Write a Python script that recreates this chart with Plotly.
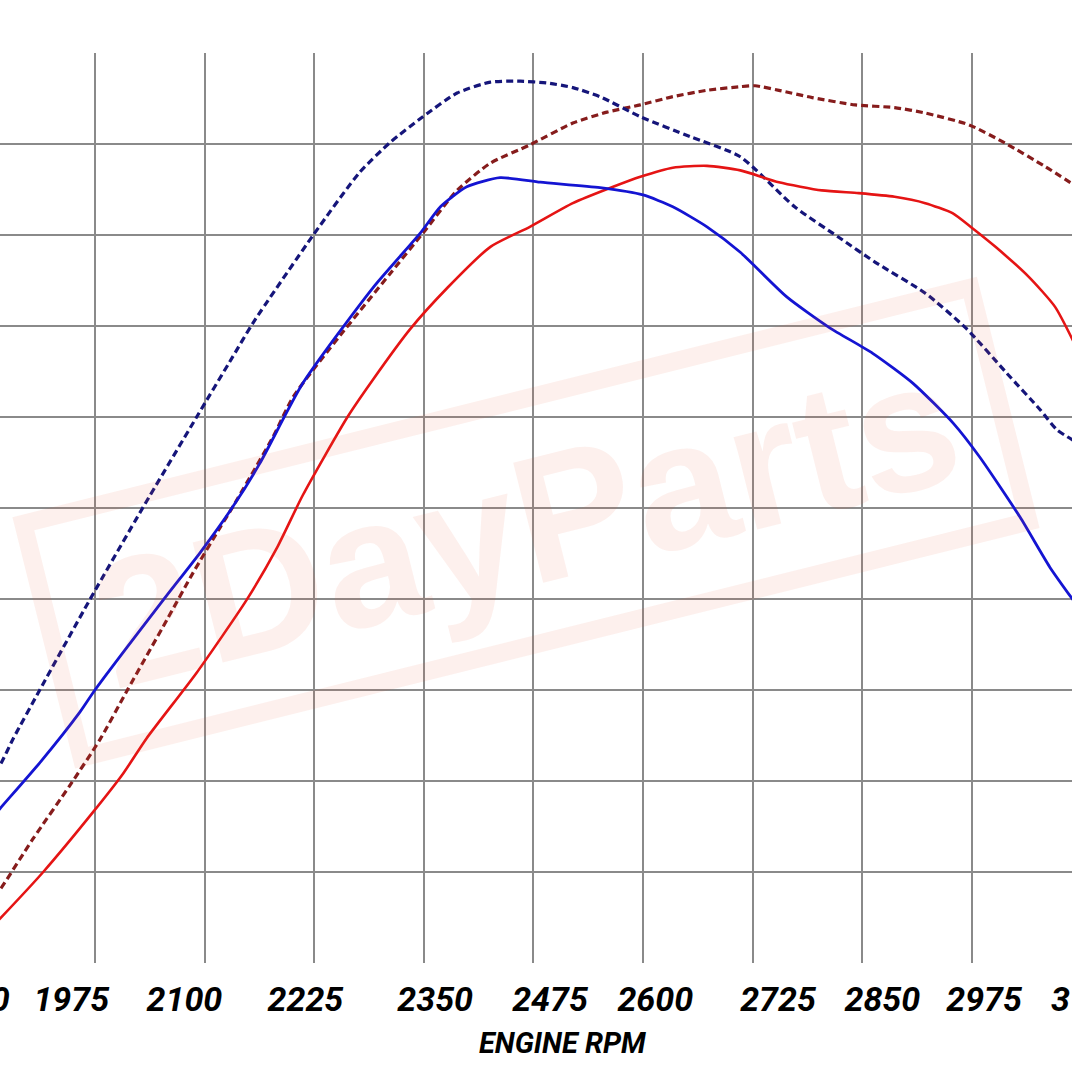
import plotly.graph_objects as go

# dyno sweep, values in grid divisions (y labels are cropped off the source)
blue_rpm = [1860, 1867, 1912, 1958, 1975, 2053, 2095, 2132, 2163, 2212, 2292, 2346, 2369, 2399,
            2437, 2483, 2551, 2600, 2634, 2673, 2711, 2764, 2813, 2862, 2908, 2954, 2984, 3030,
            3064, 3095]
blue_val = [1.62, 1.70, 2.20, 2.76, 3.00, 3.99, 4.51, 5.01, 5.49, 6.37, 7.42, 8.02, 8.31, 8.53,
            8.63, 8.58, 8.52, 8.44, 8.31, 8.09, 7.81, 7.32, 6.98, 6.70, 6.37, 5.93, 5.56, 4.90,
            4.35, 3.93]

navy_rpm = [1860, 1867, 1882, 1912, 1969, 2030, 2091, 2132, 2155, 2224, 2277, 2312, 2349, 2388,
            2426, 2460, 2491, 2520, 2551, 2597, 2654, 2711, 2773, 2824, 2865, 2922, 2969, 3015,
            3053, 3072, 3095]
navy_val = [2.10, 2.18, 2.47, 3.00, 3.99, 5.01, 6.00, 6.66, 7.03, 8.00, 8.69, 9.02, 9.30, 9.56,
            9.68, 9.69, 9.67, 9.62, 9.52, 9.30, 9.08, 8.86, 8.31, 7.97, 7.70, 7.36, 6.97, 6.48,
            6.08, 5.86, 5.72]

red_rpm = [1860, 1867, 1916, 1973, 2007, 2034, 2091, 2148, 2183, 2212, 2263, 2292, 2334,
           2377, 2426, 2471, 2520, 2566, 2597, 2634, 2673, 2711, 2755, 2804, 2846, 2887, 2922,
           2953, 2975, 3002, 3040, 3070, 3095]
red_val = [0.42, 0.49, 1.00, 1.66, 2.08, 2.47, 3.19, 3.99, 4.57, 5.14, 6.00, 6.41, 6.96,
           7.42, 7.87, 8.09, 8.35, 8.53, 8.64, 8.74, 8.76, 8.71, 8.58, 8.49, 8.46, 8.42, 8.35,
           8.24, 8.08, 7.87, 7.54, 7.21, 6.75]

maroon_rpm = [1860, 1867, 1904, 1947, 1981, 2012, 2057, 2087, 2118, 2132, 2178, 2201, 2255, 2312,
              2349, 2388, 2426, 2471, 2520, 2559, 2597, 2634, 2673, 2711, 2728, 2755, 2793, 2842,
              2887, 2922, 2972, 3013, 3059, 3095]
maroon_val = [0.73, 0.81, 1.36, 1.96, 2.46, 3.00, 3.77, 4.29, 4.79, 5.01, 5.78, 6.22, 6.90, 7.58,
              8.02, 8.49, 8.79, 8.99, 9.23, 9.35, 9.43, 9.52, 9.59, 9.63, 9.64, 9.59, 9.51, 9.43,
              9.40, 9.34, 9.21, 9.01, 8.75, 8.53]

grid_rpm = [1975, 2100, 2225, 2350, 2475, 2600, 2725, 2850, 2975]
label_rpm = [1948, 2077, 2215, 2363, 2494, 2614, 2754, 2873, 2989]
label_text = ["1975", "2100", "2225", "2350", "2475", "2600", "2725", "2850", "2975"]

x_range = [1866.7, 3089.3]
tick_font = dict(family="Roboto, Liberation Sans, Arial", size=34, color="black",
                 weight="bold", style="italic")

fig = go.Figure()
fig.add_trace(go.Scatter(x=maroon_rpm, y=maroon_val, mode="lines", name="maroon dashed",
                         line=dict(color="#861c1c", width=3.2, dash="7px,4px", shape="spline",
                                   smoothing=0.6)))
fig.add_trace(go.Scatter(x=navy_rpm, y=navy_val, mode="lines", name="navy dashed",
                         line=dict(color="#15157a", width=3.2, dash="7px,4px", shape="spline",
                                   smoothing=0.6)))
fig.add_trace(go.Scatter(x=red_rpm, y=red_val, mode="lines", name="red",
                         line=dict(color="#e51414", width=2.6, shape="spline", smoothing=0.6)))
fig.add_trace(go.Scatter(x=blue_rpm, y=blue_val, mode="lines", name="blue",
                         line=dict(color="#1414d2", width=2.8, shape="spline", smoothing=0.6)))
# empty trace so the label axis gets drawn
fig.add_trace(go.Scatter(x=[], y=[], xaxis="x2", showlegend=False, hoverinfo="skip"))

# watermark
fig.add_annotation(xref="paper", yref="paper", x=0.491, y=0.484, xanchor="center", yanchor="middle",
                   text="<b>2DayParts</b>", textangle=-14, showarrow=False,
                   font=dict(family="Liberation Sans, Arial", size=180, color="rgba(235,90,50,0.09)"),
                   width=950, height=215, borderwidth=18, borderpad=4,
                   bordercolor="rgba(235,90,50,0.09)")

# cropped end labels of the axis
fig.add_annotation(xref="paper", yref="paper", x=-28.5 / 1072, y=-0.04, text="1850",
                   showarrow=False, font=tick_font, xanchor="center", yanchor="middle")
fig.add_annotation(xref="paper", yref="paper", x=1089 / 1072, y=-0.04, text="3100",
                   showarrow=False, font=tick_font, xanchor="center", yanchor="middle")
fig.add_annotation(xref="paper", yref="paper", x=562.5 / 1072, y=-0.088, text="ENGINE RPM",
                   showarrow=False, xanchor="center", yanchor="middle",
                   font=dict(family="Roboto, Liberation Sans, Arial", size=29, color="black",
                             weight="bold", style="italic"))

fig.update_layout(
    width=1072, height=1072,
    margin=dict(l=0, r=0, t=53, b=109),
    paper_bgcolor="white", plot_bgcolor="white",
    showlegend=False,
    xaxis=dict(range=x_range, tickvals=grid_rpm, showticklabels=False, showgrid=True,
               gridcolor="#8a8a8a", gridwidth=2, zeroline=False, showline=False, ticks=""),
    xaxis2=dict(range=x_range, overlaying="x", side="bottom", anchor="y", tickvals=label_rpm,
                ticktext=label_text, showgrid=False, zeroline=False, showline=False, ticks="",
                tickfont=tick_font, ticklabelstandoff=13),
    yaxis=dict(range=[0, 10], tickvals=[1, 2, 3, 4, 5, 6, 7, 8, 9], showticklabels=False,
               showgrid=True, gridcolor="#8a8a8a", gridwidth=2, zeroline=False, showline=False,
               ticks=""),
)

fig.write_html("out.html", config={"displayModeBar": False},
               post_script="document.body.style.margin = '0';")
